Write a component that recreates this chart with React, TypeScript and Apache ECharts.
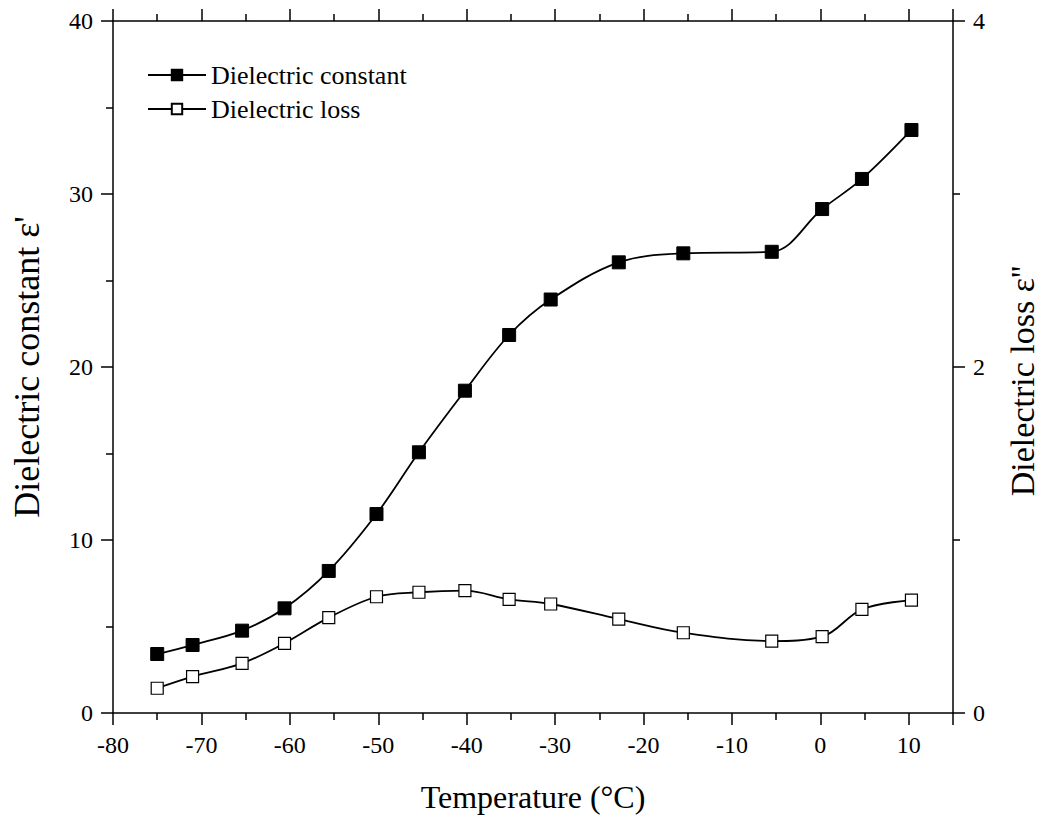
import React, { useEffect, useRef } from "react";
import * as echarts from "echarts";

const temperatures = [-75, -71, -65.4, -60.6, -55.6, -50.2, -45.4, -40.2, -35.2, -30.5, -22.8, -15.5, -5.5, 0.2, 4.7, 10.3];
const dielectricConstant = [3.41, 3.93, 4.76, 6.05, 8.21, 11.5, 15.07, 18.63, 21.85, 23.9, 26.05, 26.57, 26.66, 29.13, 30.87, 33.7];
const dielectricLoss = [0.143, 0.21, 0.287, 0.403, 0.551, 0.672, 0.698, 0.707, 0.657, 0.63, 0.543, 0.464, 0.416, 0.441, 0.599, 0.653];

const FONT = "Liberation Serif";

export default function App() {
  const ref = useRef<HTMLDivElement>(null);
  useEffect(() => {
    if (!ref.current) return;
    const chart = echarts.init(ref.current, null, { renderer: "svg" });
    const axisLine = { show: true, onZero: false, lineStyle: { color: "#000", width: 1.5 } };
    const tick = { show: true, inside: false, length: 12, lineStyle: { color: "#000", width: 1.5 } };
    const minor = { show: true, splitNumber: 2, length: 7, lineStyle: { color: "#000", width: 1.5 } };
    const label = { color: "#000", fontFamily: FONT, fontSize: 24, margin: 20 };
    chart.setOption({
      animation: false,
      backgroundColor: "#fff",
      grid: { left: 113, right: 80, top: 21, bottom: 106, containLabel: false },
      legend: {
        orient: "vertical",
        left: 147,
        top: 62,
        padding: 0,
        itemWidth: 58,
        itemHeight: 13,
        itemGap: 8,
        textStyle: { color: "#000", fontFamily: FONT, fontSize: 26 },
        data: ["Dielectric constant", "Dielectric loss"],
      },
      xAxis: [
        {
          type: "value",
          min: -80,
          max: 15,
          interval: 10,
          position: "bottom",
          axisLine,
          axisTick: tick,
          minorTick: minor,
          splitLine: { show: false },
          axisLabel: { ...label, showMaxLabel: false },
          name: "Temperature (°C)",
          nameLocation: "middle",
          nameGap: 68,
          nameTextStyle: { color: "#000", fontFamily: FONT, fontSize: 32 },
        },
        {
          type: "value",
          min: -80,
          max: 15,
          interval: 10,
          position: "top",
          axisLine,
          axisTick: tick,
          minorTick: minor,
          splitLine: { show: false },
          axisLabel: { show: false },
        },
      ],
      yAxis: [
        {
          type: "value",
          min: 0,
          max: 40,
          interval: 10,
          position: "left",
          axisLine,
          axisTick: tick,
          minorTick: minor,
          splitLine: { show: false },
          axisLabel: label,
          name: "Dielectric constant ε'",
          nameLocation: "middle",
          nameRotate: 90,
          nameGap: 68,
          nameTextStyle: { color: "#000", fontFamily: FONT, fontSize: 36 },
        },
        {
          type: "value",
          min: 0,
          max: 4,
          interval: 2,
          position: "right",
          axisLine,
          axisTick: tick,
          minorTick: minor,
          splitLine: { show: false },
          axisLabel: label,
          name: "Dielectric loss ε''",
          nameLocation: "middle",
          nameRotate: 90,
          nameGap: 52,
          nameTextStyle: { color: "#000", fontFamily: FONT, fontSize: 34, padding: [0, 28, 0, 0] },
        },
      ],
      series: [
        {
          name: "Dielectric constant",
          type: "line",
          xAxisIndex: 0,
          yAxisIndex: 0,
          smooth: 0.35,
          symbol: "rect",
          symbolSize: 13,
          lineStyle: { color: "#000", width: 1.8 },
          itemStyle: { color: "#000", borderColor: "#000", borderWidth: 1 },
          data: temperatures.map((t, i) => [t, dielectricConstant[i]]),
        },
        {
          name: "Dielectric loss",
          type: "line",
          xAxisIndex: 0,
          yAxisIndex: 1,
          smooth: 0.35,
          symbol: "rect",
          symbolSize: 12,
          lineStyle: { color: "#000", width: 1.8 },
          itemStyle: { color: "#fff", borderColor: "#000", borderWidth: 1.2 },
          data: temperatures.map((t, i) => [t, dielectricLoss[i]]),
        },
      ],
    });
    return () => chart.dispose();
  }, []);
  return (
    <div
      ref={ref}
      style={{ position: "fixed", left: 0, top: 0, width: 1047, height: 819, background: "#fff" }}
    />
  );
}
